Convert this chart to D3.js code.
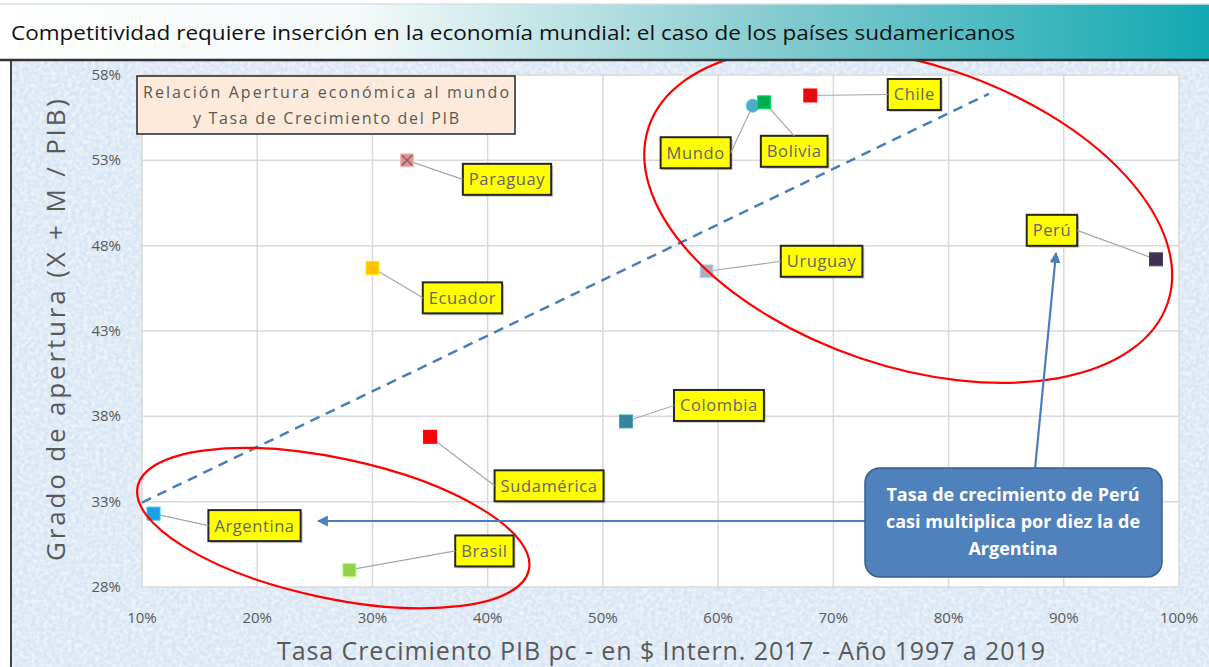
<!DOCTYPE html>
<head>
<meta charset="utf-8">
<script src="https://d3js.org/d3.v7.min.js"></script>
<style>
  body { margin: 0; background: #fff; }
  svg { display: block; font-family: "Open Sans", sans-serif; }
  .tick-label { fill: #595959; font-size: 15px; }
  .etiqueta text { fill: #666; font-size: 16.5px; letter-spacing: 0.6px; }
</style>
</head>
<body>
<script>

// datos
var paises = ["Argentina", "Brasil", "Paraguay", "Ecuador", "Sudamérica", "Colombia",
              "Uruguay", "Mundo", "Bolivia", "Chile", "Perú"];
var crecimiento = [0.11, 0.28, 0.33, 0.30, 0.35, 0.52, 0.59, 0.63, 0.64, 0.68, 0.98];
var apertura = [0.323, 0.290, 0.530, 0.467, 0.368, 0.377, 0.465, 0.562, 0.564, 0.568, 0.472];

var xTicks = [0.1, 0.2, 0.3, 0.4, 0.5, 0.6, 0.7, 0.8, 0.9, 1.0];
var yTicks = [0.28, 0.33, 0.38, 0.43, 0.48, 0.53, 0.58];

// linea de tendencia (extremos)
var tendencia = [[0.10, 0.3295], [0.835, 0.569]];

// estilos por serie
var estilo = {
    "Argentina":  { fill: "#1ea0e6", shape: "sq" },
    "Brasil":     { fill: "#92d050", shape: "sq" },
    "Paraguay":   { fill: "#d99694", shape: "sq", cross: "#8a5a78" },
    "Ecuador":    { fill: "#ffc000", shape: "sq" },
    "Sudamérica": { fill: "#ff0000", shape: "sq" },
    "Colombia":   { fill: "#31859c", shape: "sq" },
    "Uruguay":    { fill: "#95b3d7", shape: "sq", cross: "#f0a060" },
    "Mundo":      { fill: "#4bacc6", shape: "circle" },
    "Bolivia":    { fill: "#00b050", shape: "sq" },
    "Chile":      { fill: "#ff0000", shape: "sq", cross: "#b02030" },
    "Perú":       { fill: "#403151", shape: "sq" }
};

// posicion de las etiquetas (desplazamiento en px respecto al punto) y lado de la guia
var etiquetaPos = {
    "Argentina":  { dx: 101, dy: 12, side: "l" },
    "Brasil":     { dx: 135, dy: -19, side: "l" },
    "Paraguay":   { dx: 100, dy: 19, side: "l" },
    "Ecuador":    { dx: 90, dy: 30, side: "l" },
    "Sudamérica": { dx: 119, dy: 49, side: "l" },
    "Colombia":   { dx: 93, dy: -16, side: "l" },
    "Uruguay":    { dx: 115, dy: -10, side: "l" },
    "Mundo":      { dx: -57, dy: 47, side: "r" },
    "Bolivia":    { dx: 30, dy: 49, side: "t" },
    "Chile":      { dx: 104, dy: -1, side: "l" },
    "Perú":       { dx: -104, dy: -29, side: "r" }
};

var width = 1209;
var height = 667;

var svg = d3.select("body")
    .append("svg")
    .attr("width", width)
    .attr("height", height);

var x = d3.scaleLinear().domain([0.10, 1.00]).range([142, 1179]);
var y = d3.scaleLinear().domain([0.28, 0.58]).range([587, 75]);

var defs = svg.append("defs");

var grad = defs.append("linearGradient").attr("id", "barra");
grad.append("stop").attr("offset", "0%").attr("stop-color", "#ffffff");
grad.append("stop").attr("offset", "30%").attr("stop-color", "#f4f9f9");
grad.append("stop").attr("offset", "65%").attr("stop-color", "#82cacf");
grad.append("stop").attr("offset", "100%").attr("stop-color", "#12a9b2");

var tex = defs.append("filter").attr("id", "textura")
    .attr("x", 0).attr("y", 0).attr("width", 1).attr("height", 1);
tex.append("feTurbulence").attr("type", "fractalNoise")
    .attr("baseFrequency", "0.25").attr("numOctaves", 2).attr("seed", 4);
tex.append("feColorMatrix").attr("type", "matrix")
    .attr("values", "0 0 0 0 1  0 0 0 0 1  0 0 0 0 1  0 0 0 1.2 -0.35");

defs.append("marker")
    .attr("id", "flecha")
    .attr("viewBox", "0 0 10 10")
    .attr("refX", 9).attr("refY", 5)
    .attr("markerWidth", 5).attr("markerHeight", 5)
    .attr("orient", "auto")
    .append("path")
    .attr("d", "M0,0 L10,5 L0,10 Z")
    .attr("fill", "#4a7ebb");

// fondo del area del grafico
svg.append("rect")
    .attr("x", 11).attr("y", 55).attr("width", width - 11).attr("height", height - 55)
    .attr("fill", "#d6e4f3");
svg.append("rect")
    .attr("x", 11).attr("y", 55).attr("width", width - 11).attr("height", height - 55)
    .attr("filter", "url(#textura)");
svg.append("line")
    .attr("x1", 11).attr("x2", 11).attr("y1", 55).attr("y2", height)
    .attr("stroke", "#444").attr("stroke-width", 2);

// area de trazado
svg.append("rect")
    .attr("x", x(0.10)).attr("y", y(0.58))
    .attr("width", x(1.0) - x(0.10)).attr("height", y(0.28) - y(0.58))
    .attr("fill", "#fff");

svg.append("g").selectAll("line")
    .data(xTicks).enter().append("line")
    .attr("x1", d => x(d)).attr("x2", d => x(d))
    .attr("y1", y(0.58)).attr("y2", y(0.28))
    .attr("stroke", "#d9d9d9").attr("stroke-width", 1.5);

svg.append("g").selectAll("line")
    .data(yTicks).enter().append("line")
    .attr("x1", x(0.10)).attr("x2", x(1.0))
    .attr("y1", d => y(d)).attr("y2", d => y(d))
    .attr("stroke", "#d9d9d9").attr("stroke-width", 1.5);

var fmt = d3.format(".0%");

svg.append("g").selectAll("text")
    .data(xTicks).enter().append("text")
    .attr("class", "tick-label")
    .attr("x", d => x(d)).attr("y", 623)
    .attr("text-anchor", "middle")
    .text(d => fmt(d));

svg.append("g").selectAll("text")
    .data(yTicks).enter().append("text")
    .attr("class", "tick-label")
    .attr("x", 121).attr("y", d => y(d) + 5)
    .attr("text-anchor", "end")
    .text(d => fmt(d));

// titulos de ejes
svg.append("text")
    .attr("transform", "translate(65,330) rotate(-90)")
    .attr("text-anchor", "middle")
    .attr("fill", "#595959")
    .style("font-size", "26px")
    .attr("textLength", 462).attr("lengthAdjust", "spacing")
    .text("Grado de apertura (X + M / PIB)");

svg.append("text")
    .attr("x", 661).attr("y", 660)
    .attr("text-anchor", "middle")
    .attr("fill", "#595959")
    .style("font-size", "25px")
    .attr("textLength", 768).attr("lengthAdjust", "spacing")
    .text("Tasa Crecimiento PIB pc - en $ Intern. 2017 -  Año 1997 a 2019");

// linea de tendencia
svg.append("line")
    .attr("x1", x(tendencia[0][0])).attr("y1", y(tendencia[0][1]))
    .attr("x2", x(tendencia[1][0])).attr("y2", y(tendencia[1][1]))
    .attr("stroke", "#4a7ebb").attr("stroke-width", 2.5)
    .attr("stroke-dasharray", "10,7");

var puntos = paises.map(function (p, i) {
    return { nombre: p, cx: x(crecimiento[i]), cy: y(apertura[i]) };
});

// etiquetas: primero medir el texto
var gEtq = svg.append("g").attr("class", "etiqueta");
puntos.forEach(function (d) {
    var pos = etiquetaPos[d.nombre];
    var t = gEtq.append("text").text(d.nombre);
    var w = t.node().getComputedTextLength() + 12;
    var h = 31;
    d.lx = d.cx + pos.dx;
    d.ly = d.cy + pos.dy;
    d.w = w;
    d.h = h;
    t.remove();
});

// guias
svg.append("g").selectAll("line")
    .data(puntos).enter().append("line")
    .attr("x1", d => d.cx).attr("y1", d => d.cy)
    .attr("x2", function (d) {
        var s = etiquetaPos[d.nombre].side;
        if (s == "l") return d.lx - d.w / 2;
        if (s == "r") return d.lx + d.w / 2;
        return d.lx;
    })
    .attr("y2", function (d) {
        var s = etiquetaPos[d.nombre].side;
        if (s == "t") return d.ly - d.h / 2;
        return d.ly;
    })
    .attr("stroke", "#a6a6a6").attr("stroke-width", 1.2);

// marcadores
var gPts = svg.append("g");
puntos.forEach(function (d) {
    var st = estilo[d.nombre];
    if (st.shape == "circle") {
        gPts.append("circle")
            .attr("cx", d.cx).attr("cy", d.cy).attr("r", 6.5)
            .attr("fill", st.fill).attr("stroke", "#6ec0d6").attr("stroke-width", 1);
    } else {
        gPts.append("rect")
            .attr("x", d.cx - 6.5).attr("y", d.cy - 6.5)
            .attr("width", 13).attr("height", 13)
            .attr("fill", st.fill)
            .attr("stroke", d3.color(st.fill).brighter(0.6)).attr("stroke-width", 1);
        if (st.cross) {
            gPts.append("path")
                .attr("d", "M" + (d.cx - 5) + "," + (d.cy - 5) + "L" + (d.cx + 5) + "," + (d.cy + 5) +
                    "M" + (d.cx + 5) + "," + (d.cy - 5) + "L" + (d.cx - 5) + "," + (d.cy + 5))
                .attr("stroke", st.cross).attr("stroke-width", 1.5);
        }
    }
});

// cajas amarillas
puntos.forEach(function (d) {
    var g = gEtq.append("g");
    g.append("rect")
        .attr("x", d.lx - d.w / 2 + 2).attr("y", d.ly - d.h / 2 + 2)
        .attr("width", d.w).attr("height", d.h)
        .attr("fill", "#999").attr("opacity", 0.5);
    g.append("rect")
        .attr("x", d.lx - d.w / 2).attr("y", d.ly - d.h / 2)
        .attr("width", d.w).attr("height", d.h)
        .attr("fill", "#ffff00").attr("stroke", "#262626").attr("stroke-width", 2);
    g.append("text")
        .attr("x", d.lx).attr("y", d.ly + 6)
        .attr("text-anchor", "middle")
        .text(d.nombre);
});

// recuadro de titulo interno
svg.append("rect")
    .attr("x", 137).attr("y", 76).attr("width", 378).attr("height", 58)
    .attr("fill", "#fdeada").attr("stroke", "#262626").attr("stroke-width", 1.5);
svg.append("text")
    .attr("x", 326).attr("y", 98)
    .attr("text-anchor", "middle").attr("fill", "#595959")
    .style("font-size", "16px")
    .attr("textLength", 366).attr("lengthAdjust", "spacing")
    .text("Relación Apertura económica al mundo");
svg.append("text")
    .attr("x", 326).attr("y", 124)
    .attr("text-anchor", "middle").attr("fill", "#595959")
    .style("font-size", "16px")
    .attr("textLength", 266).attr("lengthAdjust", "spacing")
    .text("y Tasa de Crecimiento del PIB");

// elipses rojas (centro en unidades de datos)
var elipses = [
    { cx: 0.765, cy: 0.498, rx: 274, ry: 151, rot: 18.75 },
    { cx: 0.266, cy: 0.3145, rx: 200, ry: 70, rot: 12 }
];
svg.append("g").selectAll("ellipse")
    .data(elipses).enter().append("ellipse")
    .attr("transform", d => "translate(" + x(d.cx) + "," + y(d.cy) + ") rotate(" + d.rot + ")")
    .attr("rx", d => d.rx).attr("ry", d => d.ry)
    .attr("fill", "none").attr("stroke", "#ff0000").attr("stroke-width", 2.2);

// flechas desde el recuadro azul
svg.append("line")
    .attr("x1", 865).attr("y1", 521).attr("x2", 318).attr("y2", 521)
    .attr("stroke", "#4a7ebb").attr("stroke-width", 2.2)
    .attr("marker-end", "url(#flecha)");
svg.append("line")
    .attr("x1", 1035).attr("y1", 469).attr("x2", 1056).attr("y2", 253)
    .attr("stroke", "#4a7ebb").attr("stroke-width", 2.2)
    .attr("marker-end", "url(#flecha)");

svg.append("rect")
    .attr("x", 865).attr("y", 468).attr("width", 297).attr("height", 109)
    .attr("rx", 15).attr("ry", 15)
    .attr("fill", "#4f81bd").attr("stroke", "#385d8a").attr("stroke-width", 1.5);
var nota = ["Tasa de crecimiento de Perú", "casi multiplica por diez la de", "Argentina"];
svg.append("g").selectAll("text")
    .data(nota).enter().append("text")
    .attr("x", 1013).attr("y", (d, i) => 501 + i * 27)
    .attr("text-anchor", "middle")
    .attr("fill", "#fff").style("font-weight", "bold").style("font-size", "18px")
    .text(d => d);

// barra de titulo
svg.append("rect")
    .attr("x", 0).attr("y", 0).attr("width", width).attr("height", 60)
    .attr("fill", "#fff");
svg.append("rect")
    .attr("x", 0).attr("y", 4).attr("width", width).attr("height", 55)
    .attr("fill", "url(#barra)");
svg.append("line")
    .attr("x1", 0).attr("x2", width).attr("y1", 4).attr("y2", 4)
    .attr("stroke", "#d6e0ea").attr("stroke-width", 1.5);
svg.append("line")
    .attr("x1", 0).attr("x2", width).attr("y1", 60).attr("y2", 60)
    .attr("stroke", "#333").attr("stroke-width", 2.5);
svg.append("text")
    .attr("x", 11).attr("y", 40)
    .attr("fill", "#111")
    .style("font-size", "20px")
    .attr("textLength", 1004).attr("lengthAdjust", "spacingAndGlyphs")
    .text("Competitividad requiere inserción en la economía mundial: el caso de los países sudamericanos");

</script>
</body>
